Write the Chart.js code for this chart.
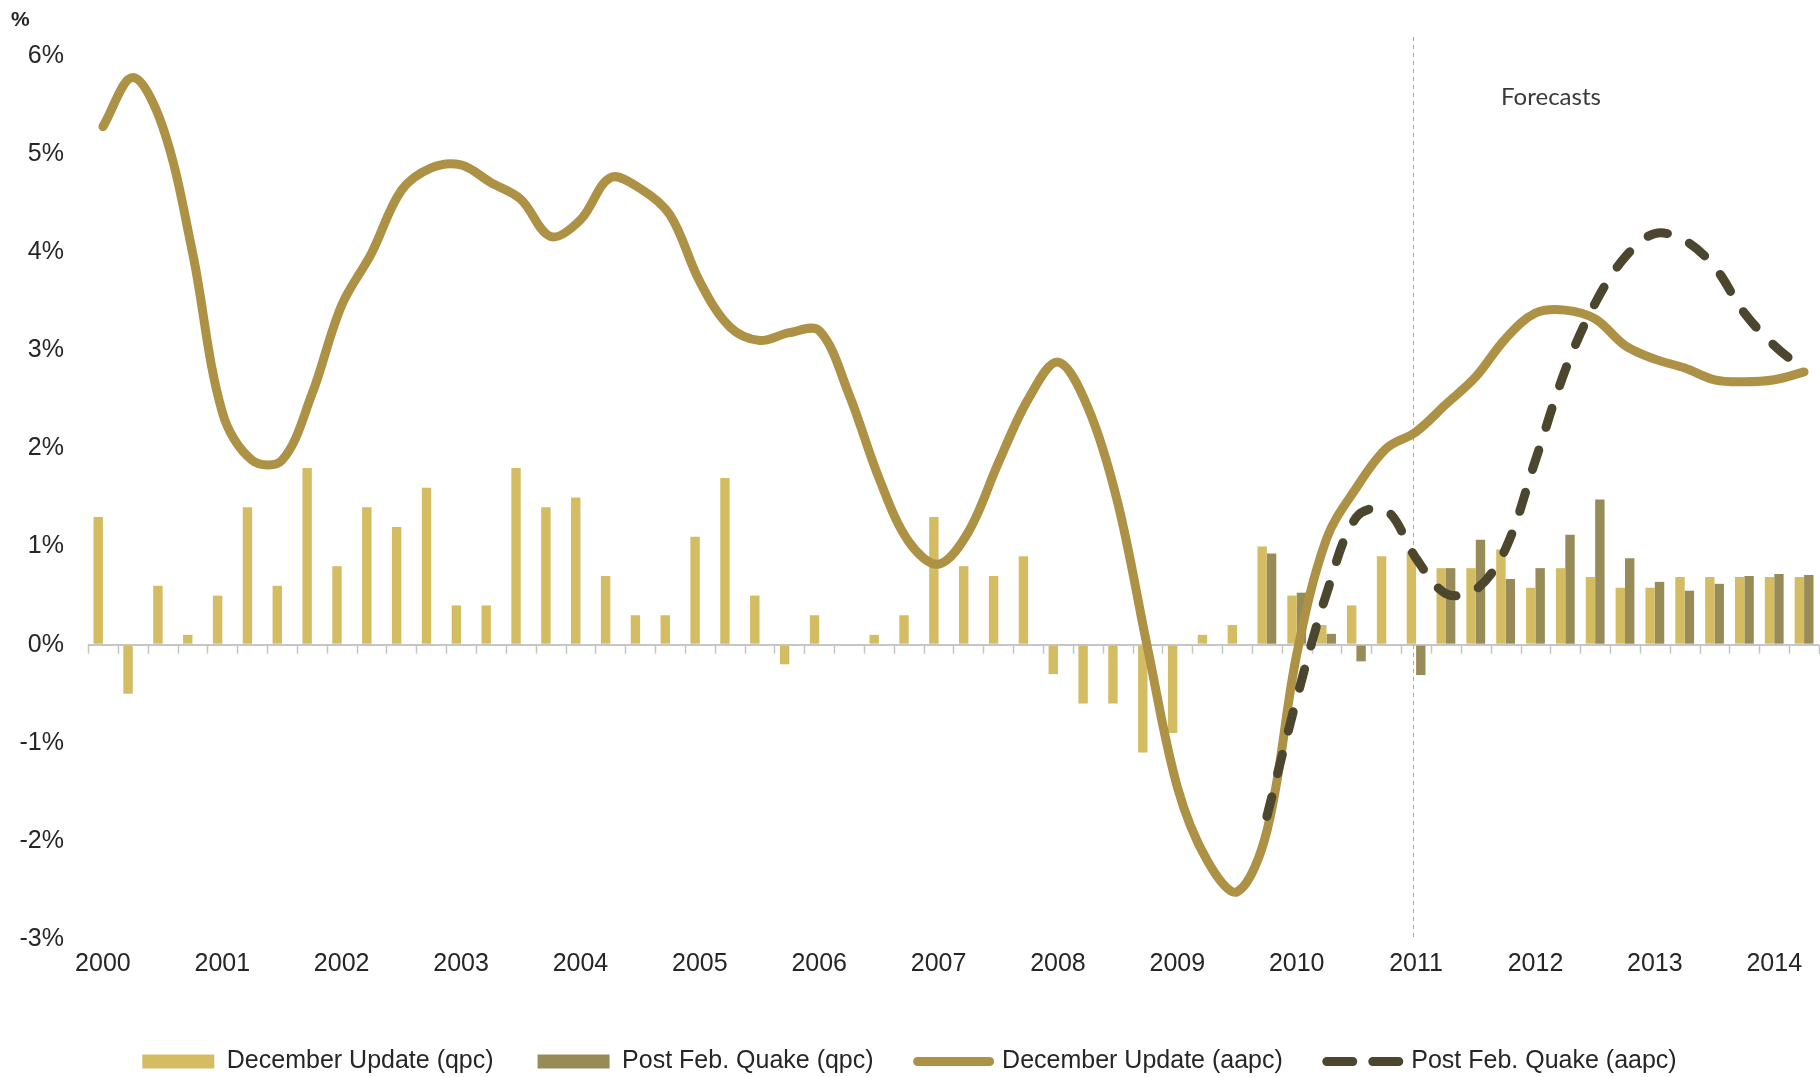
<!DOCTYPE html>
<html lang="en">
<head>
<meta charset="utf-8">
<title>GDP growth - December Update vs Post Feb. Quake</title>
<script src="https://cdn.jsdelivr.net/npm/chart.js@4.4.1/dist/chart.umd.min.js"></script>
<style>
  html, body { margin: 0; padding: 0; background: #fff; }
  #wrap { width: 1820px; height: 1077px; }
</style>
</head>
<body>
<div id="wrap"><canvas id="growth" width="1820" height="1077"></canvas></div>
<script>
// year tick labels, one per 4 quarters
const years = ['2000', '2001', '2002', '2003', '2004', '2005', '2006', '2007',
               '2008', '2009', '2010', '2011', '2012', '2013', '2014'];
// 2000 Q1 .. 2014 Q2
const quarters = years.flatMap(y => ['Q1', 'Q2', 'Q3', 'Q4'].map(q => y + ' ' + q)).slice(0, 58);

// quarterly % change
const decemberQpc = [
  1.3, -0.5, 0.6, 0.1,   0.5, 1.4, 0.6, 1.8,    0.8, 1.4, 1.2, 1.6,    0.4, 0.4, 1.8, 1.4,
  1.5, 0.7, 0.3, 0.3,    1.1, 1.7, 0.5, -0.2,   0.3, 0.0, 0.1, 0.3,    1.3, 0.8, 0.7, 0.9,
  -0.3, -0.6, -0.6, -1.1, -0.9, 0.1, 0.2, 1.0,  0.5, 0.2, 0.4, 0.9,    0.95, 0.78, 0.78, 0.97,
  0.58, 0.78, 0.69, 0.58, 0.58, 0.69, 0.69, 0.69, 0.69, 0.69
];
const postQuakeQpc = [
  null, null, null, null, null, null, null, null, null, null, null, null, null, null, null, null,
  null, null, null, null, null, null, null, null, null, null, null, null, null, null, null, null,
  null, null, null, null, null, null, null, 0.93, 0.53, 0.11, -0.17, 0, -0.31, 0.78, 1.07, 0.67,
  0.78, 1.12, 1.48, 0.88, 0.64, 0.55, 0.62, 0.70, 0.72, 0.71
];

// annual average % change
const decemberAapc = [
  5.28, 5.78, 5.28, 4.0,   2.37, 1.88, 1.88, 2.55,   3.46, 3.99, 4.63, 4.86,   4.89, 4.71, 4.54, 4.16,
  4.33, 4.76, 4.65, 4.38,  3.7, 3.24, 3.1, 3.18,     3.2, 2.55, 1.7, 1.05,     0.82, 1.15, 1.85, 2.5,
  2.88, 2.42, 1.45, -0.03, -1.45, -2.2, -2.52, -1.9, -0.1, 1.08, 1.6, 2.0,     2.17, 2.45, 2.73, 3.12,
  3.38, 3.41, 3.32, 3.05,  2.91, 2.82, 2.7, 2.68,    2.7, 2.78
];
const postQuakeAapc = [
  null, null, null, null, null, null, null, null, null, null, null, null, null, null, null, null,
  null, null, null, null, null, null, null, null, null, null, null, null, null, null, null, null,
  null, null, null, null, null, null, null, -1.75, -0.55, 0.52, 1.3, 1.37, 0.88, 0.52, 0.56, 0.98,
  1.88, 2.8, 3.48, 3.95, 4.19, 4.12, 3.85, 3.38, 3.05, 2.8
];

const forecastStart = 44; // 2011 Q1

Chart.defaults.font.family = "'Liberation Sans', Arial, sans-serif";
Chart.defaults.font.size = 25;
Chart.defaults.color = '#262626';

// zero line tick marks, forecast divider and the two free texts
const decorations = {
  id: 'decorations',
  beforeDatasetsDraw(chart) {
    const {ctx, scales: {x, y}, chartArea} = chart;
    const half = (x.getPixelForValue(1) - x.getPixelForValue(0)) / 2;
    const y0 = y.getPixelForValue(0);
    ctx.save();
    ctx.strokeStyle = '#C4C4C4';
    ctx.lineWidth = 1.5;
    for (let i = 0; i <= quarters.length; i++) {
      const px = Math.round(x.getPixelForValue(i) - half) + 0.5;
      ctx.beginPath();
      ctx.moveTo(px, y0);
      ctx.lineTo(px, y0 + 9);
      ctx.stroke();
    }
    // forecast divider
    const fx = Math.round(x.getPixelForValue(forecastStart) - half * 0.2) + 0.5;
    ctx.strokeStyle = '#A8A8A8';
    ctx.lineWidth = 1;
    ctx.setLineDash([4, 4]);
    ctx.beginPath();
    ctx.moveTo(fx, chartArea.top - 19);
    ctx.lineTo(fx, chartArea.bottom);
    ctx.stroke();
    ctx.restore();
  },
  afterDraw(chart) {
    const {ctx, chartArea} = chart;
    ctx.save();
    ctx.fillStyle = '#262626';
    ctx.textBaseline = 'middle';
    ctx.textAlign = 'left';
    ctx.font = "bold 21px 'Liberation Sans', Arial, sans-serif";
    ctx.fillText('%', 11, 20);
    ctx.fillStyle = '#3A3A3A';
    ctx.textAlign = 'center';
    ctx.font = "24px Lato, 'Open Sans', sans-serif";
    ctx.fillText('Forecasts', 1551, chartArea.top + 41);
    ctx.restore();
  }
};

new Chart(document.getElementById('growth'), {
  data: {
    labels: quarters,
    datasets: [{
      type: 'bar',
      label: 'December Update (qpc)',
      data: decemberQpc,
      backgroundColor: '#D4BC62',
      borderWidth: 0,
      categoryPercentage: 0.63,
      barPercentage: 1.0,
      order: 2
    }, {
      type: 'bar',
      label: 'Post Feb. Quake (qpc)',
      data: postQuakeQpc,
      backgroundColor: '#978C58',
      borderWidth: 0,
      categoryPercentage: 0.63,
      barPercentage: 1.0,
      order: 2
    }, {
      type: 'line',
      label: 'December Update (aapc)',
      data: decemberAapc,
      borderColor: '#AD9246',
      backgroundColor: '#AD9246',
      borderWidth: 9,
      borderCapStyle: 'round',
      borderJoinStyle: 'round',
      pointRadius: 0,
      tension: 0.35,
      order: 1
    }, {
      type: 'line',
      label: 'Post Feb. Quake (aapc)',
      data: postQuakeAapc,
      borderColor: '#4C462E',
      backgroundColor: '#4C462E',
      borderWidth: 9,
      borderDash: [20, 24],
      borderCapStyle: 'round',
      borderJoinStyle: 'round',
      pointRadius: 0,
      tension: 0.35,
      order: 0
    }]
  },
  options: {
    responsive: false,
    animation: false,
    devicePixelRatio: 1,
    events: [],
    layout: { padding: { top: 56, right: 1, left: 0, bottom: -7 } },
    plugins: {
      tooltip: { enabled: false },
      title: { display: false },
      legend: {
        position: 'bottom',
        labels: {
          usePointStyle: true,
          pointStyleWidth: 72,
          boxHeight: 14,
          padding: 44,
          color: '#262626',
          font: { size: 25 },
          generateLabels(chart) {
            return chart.data.datasets.map((ds, i) => ({
              text: ds.label,
              datasetIndex: i,
              fillStyle: ds.type === 'bar' ? ds.backgroundColor : ds.borderColor,
              strokeStyle: ds.type === 'bar' ? ds.backgroundColor : ds.borderColor,
              lineWidth: ds.type === 'bar' ? 0 : ds.borderWidth,
              lineCap: 'round',
              lineDash: ds.borderDash ? [26, 20] : [],
              pointStyle: ds.type === 'bar' ? 'rect' : 'line',
              fontColor: '#262626',
              hidden: false
            }));
          }
        }
      }
    },
    scales: {
      x: {
        grid: { display: false, drawTicks: false },
        border: { display: false },
        ticks: {
          autoSkip: false,
          maxRotation: 0,
          padding: 10,
          color: '#262626',
          callback: (v, i) => (i % 4 === 0 ? years[i / 4] : '')
        },
        afterFit(scale) { scale.height = 66; }
      },
      y: {
        min: -3,
        max: 6,
        grid: {
          drawTicks: false,
          lineWidth: 2,
          color: ctx => (ctx.tick && ctx.tick.value === 0 ? '#C6C6C6' : 'rgba(0,0,0,0)')
        },
        border: { display: false },
        ticks: {
          stepSize: 1,
          padding: 24,
          color: '#262626',
          callback: v => v + '%'
        },
        afterFit(scale) { scale.width = 88; }
      }
    }
  },
  plugins: [decorations]
});
</script>
</body>
</html>
